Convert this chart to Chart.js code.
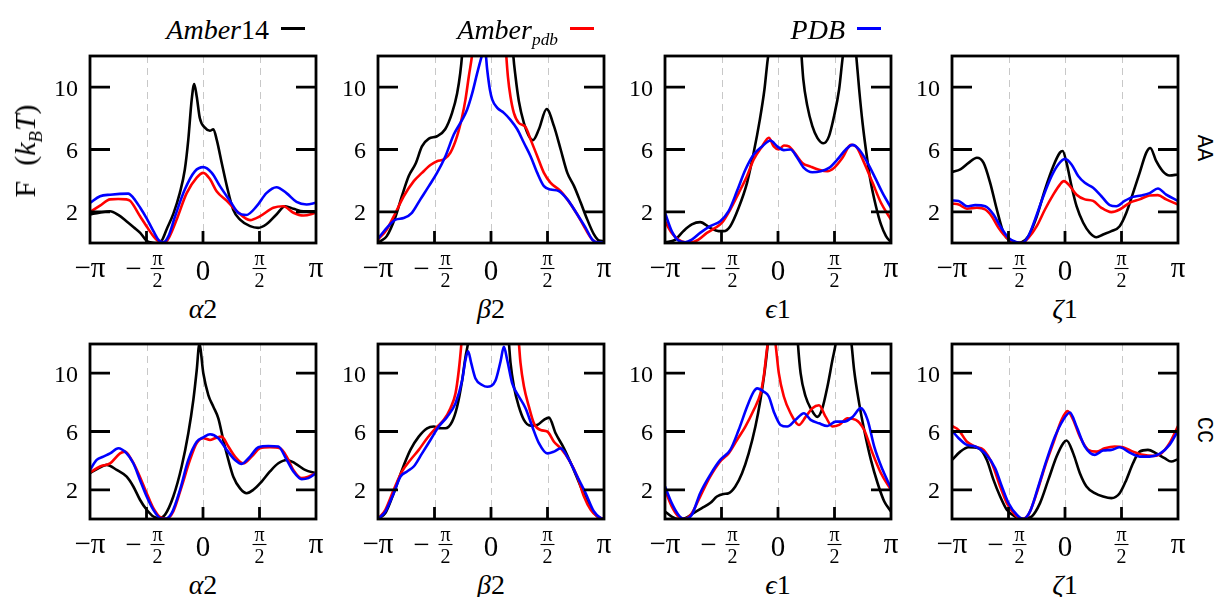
<!DOCTYPE html>
<html>
<head>
<meta charset="utf-8">
<script src="https://cdn.jsdelivr.net/npm/chart.js@4.4.1/dist/chart.umd.min.js"></script>
<style>
body { margin: 0; background: #fff; }
#page { position: relative; width: 1214px; height: 597px; overflow: hidden; font-family: "Liberation Serif", "Times New Roman", serif; color: #000; }
#page canvas { position: absolute; }
.lbl { position: absolute; white-space: nowrap; line-height: 32px; }
.lbl sub { font-size: 0.62em; vertical-align: -0.35em; line-height: 0; }
.legend-text { font-size: 28px; text-align: right; }
.legend-line { position: absolute; height: 3px; width: 24px; }
.xtitle { font-size: 28px; transform: translate(-50%, -50%); }
.ytitle { font-size: 30px; transform: translate(-50%, -50%) rotate(-90deg); }
.rowname { font-family: "Liberation Mono", monospace; font-size: 22px; transform: translate(-50%, -50%) rotate(90deg); }
</style>
</head>
<body>
<div id="page"></div>
<script>
// 全局設定：角度以度表示，刻度標籤為 π 的分數
var xTickValues = [-180, -90, 0, 90, 180];
var xTickLabels = ['−π', '−π/2', '0', 'π/2', 'π'];
var yTickValues = [2, 6, 10];
var seriesNames = ['Amber14', 'Amber_pdb', 'PDB'];
var legendLabels = ['<i>Amber</i>14', '<i>Amber</i><sub><i>pdb</i></sub>', '<i>PDB</i>'];
var angleNames = ['<i>α</i>2', '<i>β</i>2', '<i>ϵ</i>1', '<i>ζ</i>1'];
var rowNames = ['AA', 'CC'];

// AA 列：每條曲線為 [角度, F] 點
var aaAlpha2Amber14 = [[-180,1.83],[-165,1.95],[-148,2.04],[-135,1.8],[-122,1.4],[-110,1.0],[-100,0.65],[-90,0.15],[-80,0.02],[-72,0],[-65,0.2],[-58,0.87],[-47,1.9],[-37,3.2],[-29,4.7],[-23.5,6.6],[-18,9.2],[-14,10.2],[-10,9.4],[-5,8.0],[3,7.4],[11,7.2],[16.5,7.3],[22,6.6],[30,5.1],[38,3.65],[48,2.15],[59,1.5],[75,1.08],[88,0.97],[101,1.2],[117,1.83],[131,2.36],[144,2.2],[160,2.04],[180,2.04]];
var aaAlpha2AmberPdb = [[-180,1.98],[-164,2.4],[-148,2.8],[-135,2.82],[-122,2.8],[-116,2.7],[-100,1.7],[-90,1.08],[-79,0.44],[-70,0.1],[-60,0.05],[-53,0.44],[-42,1.5],[-26,3.2],[-10,4.2],[0.5,4.5],[11,4.1],[22,3.3],[38,2.7],[54,2.04],[75,1.47],[91,1.72],[112,2.26],[128,2.36],[144,1.94],[160,1.76],[180,1.94]];
var aaAlpha2Pdb = [[-180,2.58],[-164,3.0],[-148,3.1],[-119,3.17],[-111,2.9],[-100,2.26],[-90,1.6],[-79,0.76],[-70,0.16],[-63,0.05],[-55,0.44],[-44.6,1.7],[-29,3.43],[-13,4.6],[0.5,4.87],[14,4.5],[27,3.65],[43,2.7],[56,1.94],[69,1.8],[85.5,2.36],[101,3.2],[117,3.58],[133,3.2],[149,2.64],[165,2.47],[180,2.58]];

var aaBeta2Amber14 = [[-180,0],[-176,0.12],[-166,0.44],[-152,1.7],[-142,3.0],[-131,4.3],[-120,5.1],[-110,6.2],[-99,6.7],[-86,6.85],[-73,7.3],[-62,8.35],[-54,9.6],[-49,10.9],[-46,12.1],[-40,16],[0,25],[30,16],[35.4,12.1],[39,10.7],[44.4,9.1],[52.4,7.7],[60.4,6.86],[66.8,6.6],[76.3,7.3],[88.6,8.6],[100.3,7.5],[111,6.0],[121.6,4.5],[132.3,3.65],[143,2.58],[153.4,1.5],[164,0.55],[172,0.16],[180,0.12]];
var aaBeta2AmberPdb = [[-180,0.22],[-166,0.87],[-152,1.94],[-139,3.0],[-123,3.97],[-110,4.5],[-96.5,5.0],[-86,5.25],[-75,5.36],[-64.6,5.8],[-54,6.86],[-46,8.1],[-40.7,9.2],[-35.3,10.7],[-30,12.1],[-20,16],[0,22],[18,16],[24.2,12.1],[26.9,10.7],[31,9.4],[36.4,8.35],[44.4,7.7],[55,7.45],[63,6.65],[73.7,5.57],[84.3,4.5],[95,3.86],[111,3.33],[121.6,2.8],[137.5,1.83],[150.8,0.87],[161.4,0.22],[169.4,0.05],[180,0.05]];
var aaBeta2Pdb = [[-180,0.27],[-166,0.97],[-152,1.5],[-139,1.6],[-126,1.94],[-112.5,2.8],[-99,3.65],[-86,4.5],[-72.6,5.57],[-59.3,6.96],[-46,7.9],[-38,8.57],[-30,9.6],[-22,10.9],[-14,12.1],[-10,12.6],[-6,11.1],[-1.8,9.85],[2,9.2],[10,8.67],[20.5,8.35],[31,7.9],[41.8,7.3],[52.4,6.43],[63,5.57],[73.7,4.5],[84.3,3.65],[95,3.43],[108,3.33],[121.6,2.8],[137.5,1.83],[150.8,0.97],[161.4,0.22],[169.4,0.05],[180,0.05]];

var aaEps1Amber14 = [[-180,0.05],[-164,0.2],[-150.7,0.76],[-137.3,1.19],[-124,1.34],[-108,0.97],[-94.7,0.76],[-86.7,0.76],[-76,1.08],[-62.7,2.26],[-49.3,3.86],[-38.7,5.8],[-29,7.9],[-21.6,9.85],[-16.3,11.8],[-13,12.6],[0,18],[12,20],[28,18],[37,12.3],[40.3,10.5],[46.7,8.8],[54.7,7.5],[62.7,6.75],[72.3,6.4],[81.3,6.86],[89.3,8.14],[97.3,9.85],[102.7,11.8],[104.3,12.3],[114,16],[124,12.3],[129.3,9.85],[134.7,7.7],[140,6.0],[147,4.08],[156,2.36],[164,1.19],[172,0.44],[180,0.05]];
var aaEps1AmberPdb = [[-180,1.4],[-169.3,0.65],[-158.7,0.22],[-148,0.05],[-137.3,0.05],[-126.7,0.22],[-113.3,0.65],[-100,0.97],[-89.3,1.3],[-76,2.15],[-62.7,3.2],[-49.3,4.3],[-38.7,5.36],[-25.3,6.2],[-14.7,6.75],[-6.7,6.2],[1.3,6.0],[9.3,6.26],[17.3,6.2],[28,5.7],[38.7,5.14],[52,4.9],[65.3,4.7],[78.7,4.6],[89.3,4.82],[102.7,5.47],[116,6.3],[124,6.2],[137.3,5.14],[150.7,3.86],[164,2.58],[180,1.5]];
var aaEps1Pdb = [[-180,1.94],[-169.3,0.76],[-158.7,0.16],[-148,0.05],[-137.3,0.22],[-124,0.65],[-108,1.08],[-92,1.4],[-78.7,2.04],[-65.3,3.33],[-52,4.7],[-38.7,5.68],[-25.3,6.2],[-12,6.58],[-1.3,6.2],[9.3,5.96],[20,6.0],[30.7,5.47],[41.3,4.82],[54.7,4.54],[68,4.6],[81.3,4.82],[94.7,5.36],[108,6.0],[118.7,6.3],[129.3,6.0],[142.7,5.14],[156,4.08],[166.7,3.2],[180,2.26]];

var aaZeta1Amber14 = [[-180,4.55],[-166.8,4.72],[-153.6,5.14],[-140.3,5.47],[-129.7,5.14],[-119.2,3.86],[-108.6,2.15],[-98,0.65],[-87.4,0.12],[-76.8,0],[-68.9,0.05],[-58.3,0.44],[-45,1.7],[-31.9,3.43],[-18.7,4.93],[-8.1,5.8],[-3.8,5.9],[2.5,5.14],[10.4,3.65],[18.4,2.36],[29,1.3],[39.5,0.65],[50.1,0.37],[60.7,0.55],[73.9,0.76],[87.1,1.08],[97.7,1.94],[108.3,3.2],[118.9,4.5],[129.5,5.8],[135.8,6.1],[145.4,5.25],[155.9,4.6],[166.5,4.33],[180,4.4]];
var aaZeta1AmberPdb = [[-180,2.53],[-169.4,2.47],[-156.2,2.2],[-140.3,2.26],[-127.1,2.15],[-116.5,1.7],[-105.9,0.97],[-92.7,0.33],[-79.5,0.05],[-68.9,0],[-58.3,0.33],[-45,1.08],[-31.9,2.15],[-18.7,3.1],[-8.1,3.75],[-1.7,3.97],[7.8,3.65],[18.4,3.1],[31.6,2.8],[44.8,2.7],[58,2.26],[73.9,1.98],[87.1,2.15],[103,2.58],[118.9,2.8],[134.8,3.05],[148,3.07],[161.2,2.8],[180,2.47]];
var aaZeta1Pdb = [[-180,2.73],[-169.4,2.7],[-156.2,2.36],[-143,2.43],[-127.1,2.36],[-113.9,1.83],[-103.3,1.08],[-90,0.33],[-76.8,0.05],[-68.9,0],[-58.3,0.44],[-47.8,1.5],[-34.5,3.0],[-21.3,4.3],[-10.7,5.04],[0,5.4],[10.4,5.04],[21,4.3],[31.6,3.86],[44.8,3.54],[58,3.0],[71.3,2.43],[81.9,2.36],[95,2.7],[108.3,2.96],[121.5,3.05],[134.8,3.2],[148,3.5],[161.2,3.1],[180,2.7]];

// CC 列
var ccAlpha2Amber14 = [[-180,3.14],[-166.7,3.48],[-153.4,3.71],[-137.5,3.37],[-121.6,2.9],[-111,2.23],[-100.4,1.32],[-89.7,0.63],[-79.1,0.17],[-69.6,0.06],[-60.5,0.29],[-47.3,1.54],[-34,3.6],[-23.4,5.88],[-15.4,8.16],[-10,10.2],[-5.8,12.0],[0.5,10],[8.5,8.5],[16.5,7.7],[24.4,6.9],[32.4,5.4],[40.4,4.05],[48.3,2.9],[59,2.1],[69.6,1.77],[80.2,2.0],[93.5,2.57],[106.7,3.26],[120,3.82],[133.3,4.05],[146.6,3.82],[162.5,3.37],[180,3.14]];
var ccAlpha2AmberPdb = [[-180,3.19],[-164,3.6],[-148,3.82],[-132.2,4.5],[-124.2,4.62],[-113.6,4.05],[-103,3.14],[-89.7,1.77],[-79.1,0.74],[-68.5,0.13],[-57.9,0.01],[-47.3,0.52],[-34,2.23],[-20.7,4.05],[-10,5.2],[0.5,5.54],[11.2,5.42],[19.1,5.54],[29.7,5.65],[40.4,4.97],[51,4.28],[64.3,3.82],[77.5,4.28],[90.8,4.85],[106.7,4.92],[122.7,4.85],[133.3,4.28],[143.9,3.37],[157.2,2.8],[167.8,2.9],[180,3.14]];
var ccAlpha2Pdb = [[-180,3.37],[-169.4,4.05],[-158.8,4.28],[-148,4.5],[-134.9,4.85],[-121.6,4.5],[-111,3.82],[-100.4,2.68],[-89.7,1.54],[-79.1,0.63],[-68.5,0.06],[-60.5,0.01],[-49.9,0.4],[-36.6,2.0],[-23.4,4.05],[-10,5.3],[0.5,5.6],[11.2,5.81],[24.4,5.54],[37.7,4.74],[51,4.05],[61.6,3.78],[74.9,4.28],[88.2,4.92],[104,5.01],[120,4.97],[133.3,4.05],[143.9,3.26],[157.2,2.73],[167.8,2.8],[180,3.14]];

var ccBeta2Amber14 = [[-180,0],[-168.3,0.4],[-155,1.77],[-141.7,3.37],[-128.4,4.74],[-115.1,5.65],[-101.8,6.22],[-91.2,6.34],[-80.6,6.22],[-72.6,6.22],[-61.9,6.68],[-54,7.7],[-46,9.5],[-40.7,11.1],[-36.4,12.1],[-25,16],[0,22],[20,16],[28.5,12.1],[31.1,10.7],[36.4,9.1],[44.4,7.7],[52.4,6.8],[63,6.4],[73.7,6.45],[84.3,6.8],[92.3,6.95],[102.9,5.88],[116.2,4.85],[129.5,3.6],[142.8,2.23],[156.1,0.97],[169.4,0.17],[180,0]];
var ccBeta2AmberPdb = [[-180,0],[-168.3,0.63],[-155,2.0],[-141.7,3.26],[-128.4,4.05],[-115.1,4.74],[-101.8,5.54],[-88.5,6.22],[-75.2,6.8],[-64.6,7.6],[-56.6,8.6],[-51.3,10.2],[-47,12.1],[-40,16],[0,22],[38,16],[44.4,12.1],[47,10.7],[52.4,9.1],[60.4,7.7],[68.4,6.56],[79,6.1],[89.6,6.0],[100.3,5.3],[111,4.85],[124.2,4.05],[137.5,2.9],[148.1,1.54],[158.8,0.63],[169.4,0.17],[180,0]];
var ccBeta2Pdb = [[-180,0],[-168.3,0.51],[-155,1.77],[-144.4,2.9],[-133.7,3.26],[-123.1,3.6],[-109.8,4.5],[-96.5,5.42],[-83.2,6.34],[-69.9,7.0],[-56.6,7.93],[-46,9.5],[-40.7,10.9],[-36.4,11.5],[-31.6,10.7],[-24.7,9.63],[-14.1,9.19],[-6.1,9.07],[7.2,9.5],[15.2,10.8],[20.5,11.8],[25.8,10.9],[33.8,9.3],[44.4,8.4],[55,7.6],[65.7,6.34],[76.3,5.2],[89.6,4.5],[100.3,4.62],[111,4.85],[124.2,4.05],[137.5,2.9],[150.8,1.77],[164,0.51],[174.7,0.06],[180,0]];

var ccEps1Amber14 = [[-180,0.52],[-169.3,0.17],[-158.7,0],[-148,0.06],[-134.7,0.4],[-121.3,0.74],[-108,1.09],[-97.3,1.54],[-86.7,1.72],[-78.7,1.77],[-68,2.23],[-57.3,3.14],[-46.7,4.5],[-36,6.34],[-28,8.16],[-21.6,10.0],[-16.3,12.04],[-10,16],[10,20],[26,16],[31.7,12.04],[36,10.0],[44,8.4],[52,7.6],[62.7,7.0],[70.7,7.6],[78.7,9.07],[86.7,10.9],[92,12.04],[105,16],[117,12.04],[121.3,10.2],[129.3,7.93],[137.3,6.1],[148,4.05],[158.7,2.45],[169.3,1.2],[180,0.52]];
var ccEps1AmberPdb = [[-180,2.0],[-169.3,0.86],[-158.7,0.17],[-149.6,0],[-137.3,0.4],[-124,1.54],[-108,2.9],[-92,3.94],[-78.7,4.5],[-65.3,5.42],[-52,6.34],[-38.7,7.47],[-28,8.6],[-22.7,9.76],[-18.4,11.36],[-16.3,12.04],[-10,14],[-4,12.04],[1.3,10.0],[9.3,8.4],[20,7.25],[33.3,6.45],[44,7.0],[54.7,7.6],[65.3,7.8],[76,7.0],[86.7,6.34],[97.3,6.45],[110.7,6.9],[124,6.8],[137.3,6.1],[150.7,4.5],[164,3.14],[180,2.0]];
var ccEps1Pdb = [[-180,2.23],[-169.3,1.09],[-158.7,0.29],[-149.6,0],[-137.3,0.29],[-124,1.77],[-108,3.03],[-92,4.05],[-76,4.74],[-62.7,6.1],[-49.3,7.7],[-38.7,8.73],[-33.3,8.96],[-22.7,8.73],[-14.7,8.4],[-6.7,7.36],[4,6.45],[14.7,6.34],[28,6.8],[41.3,7.25],[52,6.8],[65.3,6.56],[78.7,6.38],[92,6.68],[105.3,6.68],[118.7,7.0],[132,7.6],[142.7,6.8],[153.3,4.97],[166.7,3.37],[180,2.11]];

var ccZeta1Amber14 = [[-180,4.05],[-166.8,4.62],[-153.6,4.92],[-137.7,4.85],[-124.5,4.05],[-113.9,2.68],[-103.3,1.54],[-92.7,0.63],[-79.5,0.17],[-66.3,0],[-53,0.17],[-39.8,1.09],[-26.6,2.68],[-13.4,4.28],[-2.8,5.2],[2.5,5.38],[13.1,4.5],[23.7,3.14],[34.2,2.23],[47.5,1.77],[60.7,1.54],[73.9,1.43],[87.1,1.77],[97.7,2.68],[108.3,3.82],[118.9,4.62],[132.1,4.74],[145.3,4.5],[158.6,4.17],[169.1,3.94],[180,4.1]];
var ccZeta1AmberPdb = [[-180,6.38],[-169.4,6.1],[-156.2,5.3],[-143,4.97],[-129.7,4.74],[-116.5,3.82],[-103.3,2.23],[-92.7,1.09],[-79.5,0.29],[-68.9,0],[-58.3,0.29],[-45.1,1.77],[-31.9,3.6],[-18.7,5.2],[-5.4,6.8],[4.1,7.4],[13.1,6.8],[23.7,5.65],[36.9,4.74],[50.1,4.62],[63.3,4.85],[79.2,4.97],[92.4,4.92],[108.3,4.62],[124.2,4.4],[140,4.33],[153.3,4.5],[166.5,5.2],[180,6.38]];
var ccZeta1Pdb = [[-180,6.06],[-169.4,5.54],[-156.2,5.08],[-143,4.97],[-127.1,4.5],[-111.2,3.48],[-100.6,2.23],[-90,1.09],[-76.8,0.29],[-66.3,0],[-55.7,0.52],[-42.5,2.23],[-29.2,4.05],[-16,5.65],[-2.8,6.8],[7.8,7.3],[18.4,6.34],[31.6,4.97],[47.5,4.4],[60.7,4.7],[73.9,4.74],[87.1,4.92],[103,4.55],[118.9,4.28],[134.8,4.28],[150.6,4.46],[166.5,5.08],[180,6.06]];

var panelSeries = [
    [aaAlpha2Amber14, aaAlpha2AmberPdb, aaAlpha2Pdb],
    [aaBeta2Amber14, aaBeta2AmberPdb, aaBeta2Pdb],
    [aaEps1Amber14, aaEps1AmberPdb, aaEps1Pdb],
    [aaZeta1Amber14, aaZeta1AmberPdb, aaZeta1Pdb],
    [ccAlpha2Amber14, ccAlpha2AmberPdb, ccAlpha2Pdb],
    [ccBeta2Amber14, ccBeta2AmberPdb, ccBeta2Pdb],
    [ccEps1Amber14, ccEps1AmberPdb, ccEps1Pdb],
    [ccZeta1Amber14, ccZeta1AmberPdb, ccZeta1Pdb]
];

// 版面
var seriesColors = ['#000000', '#ff0000', '#0000ff'];
var colLefts = [90, 378, 665, 952];
var rowTops = [56, 344];
var rowHeights = [187, 175];
var boxWidth = 226;
var padL = 50, padT = 8, padR = 8, padB = 50;
var xMin = -180, xMax = 180;
var serifFont = '"Liberation Serif", "Times New Roman", serif';

var page = document.getElementById('page');

function addLabel(cls, html, css) {
    var el = document.createElement('div');
    el.className = 'lbl ' + cls;
    el.innerHTML = html;
    Object.keys(css).forEach(function(k) { el.style[k] = css[k]; });
    page.appendChild(el);
    return el;
}

// 以字形外框置中繪製文字
function drawCentered(ctx, text, x, yc) {
    var m = ctx.measureText(text);
    ctx.fillText(text, x, yc + (m.actualBoundingBoxAscent - m.actualBoundingBoxDescent) / 2);
}

var axisPlugin = {
    id: 'axisDeco',
    beforeDatasetsDraw: function(chart) {
        var ctx = chart.ctx, a = chart.chartArea, xs = chart.scales.x;
        ctx.save();
        ctx.strokeStyle = '#c8c8c8';
        ctx.lineWidth = 1;
        ctx.setLineDash([7, 5]);
        xTickValues.forEach(function(v) {
            if (v <= xMin || v >= xMax) return;
            var px = Math.round(xs.getPixelForValue(v)) + 0.5;
            ctx.beginPath();
            ctx.moveTo(px, a.top);
            ctx.lineTo(px, a.bottom);
            ctx.stroke();
        });
        ctx.restore();
    },
    afterDatasetsDraw: function(chart) {
        var ctx = chart.ctx, a = chart.chartArea, xs = chart.scales.x, ys = chart.scales.y;
        ctx.save();
        ctx.strokeStyle = '#000';
        ctx.lineWidth = 2.8;
        yTickValues.forEach(function(v) {
            var py = ys.getPixelForValue(v);
            ctx.beginPath();
            ctx.moveTo(a.left, py); ctx.lineTo(a.left + 20, py);
            ctx.moveTo(a.right, py); ctx.lineTo(a.right - 20, py);
            ctx.stroke();
        });
        xTickValues.forEach(function(v) {
            if (v <= xMin || v >= xMax) return;
            var px = xs.getPixelForValue(v);
            ctx.beginPath();
            ctx.moveTo(px, a.bottom); ctx.lineTo(px, a.bottom - 12);
            ctx.stroke();
        });
        ctx.strokeRect(a.left, a.top, a.right - a.left, a.bottom - a.top);

        // 刻度標籤
        ctx.fillStyle = '#000';
        ctx.textBaseline = 'alphabetic';
        ctx.textAlign = 'right';
        ctx.font = '24px ' + serifFont;
        yTickValues.forEach(function(v) {
            drawCentered(ctx, String(v), a.left - 12, ys.getPixelForValue(v) + 1);
        });
        ctx.textAlign = 'center';
        xTickValues.forEach(function(v, i) {
            var px = xs.getPixelForValue(v);
            var lab = xTickLabels[i];
            if (lab.indexOf('/') < 0) {
                ctx.font = '29px ' + serifFont;
                drawCentered(ctx, lab, px, a.bottom + 27);
                return;
            }
            var neg = lab.charAt(0) === '−';
            var parts = lab.replace('−', '').split('/');
            var fx = neg ? px + 11 : px;
            var barY = a.bottom + 25.5;
            if (neg) {
                ctx.font = '29px ' + serifFont;
                drawCentered(ctx, '−', px - 13, barY);
            }
            ctx.font = '20px ' + serifFont;
            drawCentered(ctx, parts[0], fx, a.bottom + 16.5);
            drawCentered(ctx, parts[1], fx, a.bottom + 36.5);
            ctx.lineWidth = 1.1;
            ctx.beginPath();
            ctx.moveTo(fx - 7, barY); ctx.lineTo(fx + 7, barY);
            ctx.stroke();
        });
        ctx.restore();
    }
};

// 建立八個面板
panelSeries.forEach(function(series, p) {
    var row = Math.floor(p / 4), col = p % 4;
    var L = colLefts[col], T = rowTops[row], H = rowHeights[row];
    var cv = document.createElement('canvas');
    cv.width = padL + boxWidth + padR;
    cv.height = padT + H + padB;
    cv.style.left = (L - padL) + 'px';
    cv.style.top = (T - padT) + 'px';
    cv.style.width = cv.width + 'px';
    cv.style.height = cv.height + 'px';
    page.appendChild(cv);

    new Chart(cv, {
        type: 'line',
        data: {
            datasets: series.map(function(pts, k) {
                return {
                    label: seriesNames[k],
                    data: pts.map(function(d) { return { x: d[0], y: d[1] }; }),
                    borderColor: seriesColors[k],
                    borderWidth: 2.6,
                    pointRadius: 0,
                    fill: false,
                    cubicInterpolationMode: 'monotone',
                    order: 2 - k
                };
            })
        },
        options: {
            responsive: false,
            animation: false,
            events: [],
            layout: { padding: { left: padL, top: padT, right: padR, bottom: padB } },
            scales: {
                x: { type: 'linear', min: xMin, max: xMax, display: false },
                y: { type: 'linear', min: 0, max: 12, display: false }
            },
            plugins: { legend: { display: false }, tooltip: { enabled: false } }
        },
        plugins: [axisPlugin]
    });

    addLabel('xtitle', angleNames[col], { left: (L + boxWidth / 2) + 'px', top: (T + H + 66) + 'px' });
});

// 圖例
var legendLineLefts = [281, 570, 857];
legendLabels.forEach(function(html, k) {
    addLabel('legend-text', html, { right: (1214 - (legendLineLefts[k] - 12)) + 'px', top: '14px' });
    var ln = document.createElement('div');
    ln.className = 'legend-line';
    ln.style.left = legendLineLefts[k] + 'px';
    ln.style.top = '27px';
    ln.style.background = seriesColors[k];
    page.appendChild(ln);
});

// 軸標題與列名稱
addLabel('ytitle', 'F&nbsp;&nbsp;(<i>k</i><sub><i>B</i></sub><i>T</i>)', { left: '25px', top: '151px' });
rowNames.forEach(function(name, r) {
    addLabel('rowname', name, { left: '1203px', top: (rowTops[r] + rowHeights[r] / 2 - 2) + 'px' });
});
</script>
</body>
</html>
